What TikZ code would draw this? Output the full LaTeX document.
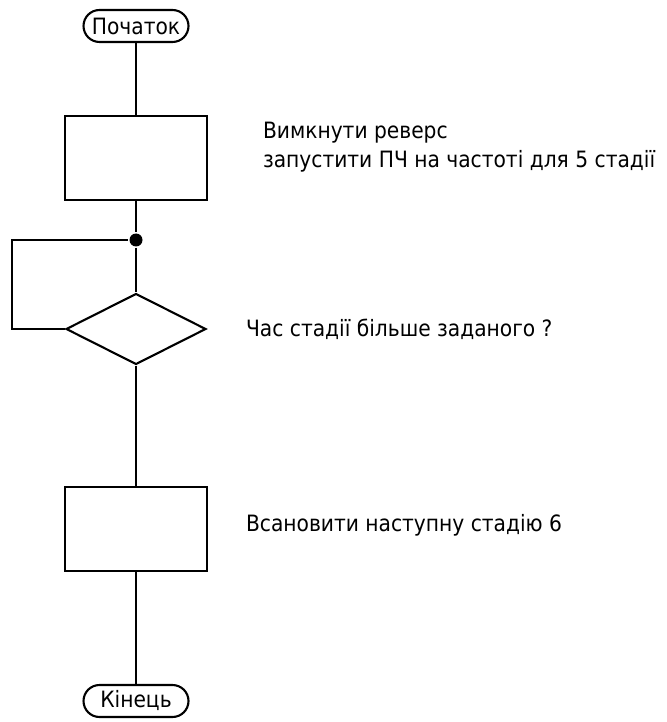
\documentclass[tikz,border=0pt]{standalone}
\usepackage{fontspec}
\setmainfont{DejaVu Sans Condensed}
\usetikzlibrary{shapes.geometric}

\begin{document}
\begin{tikzpicture}[x=0.02cm, y=-0.02cm, line width=1.2pt,
    font=\fontsize{12.8}{16.4}\selectfont,
    term/.style={rectangle, draw=black, rounded corners=0.32cm, minimum width=2.1cm, minimum height=0.64cm, inner sep=0pt},
    block/.style={rectangle, draw=black, minimum width=2.84cm, minimum height=1.68cm, inner sep=0pt},
    cond/.style={diamond, draw=black, minimum width=2.8cm, minimum height=1.42cm, inner sep=0pt},
    joint/.style={circle, fill=black, minimum size=0.26cm, inner sep=0pt},
    note/.style={anchor=west, align=left, inner sep=0pt}]
    \useasboundingbox (0,0) rectangle (666,722);
        \node[term] (start) at (136,26) {Початок};
        \node[block] (b1) at (136,158) {};
        \node[joint] (j1) at (136,240) {};
        \node[cond] (d1) at (136,329) {};
        \node[block] (b2) at (136,529) {};
        \node[term] (stop) at (136,701) {Кінець};
        \node[note] (t1) at (262,147) {Вимкнути реверс\\запустити ПЧ на частоті для 5 стадії};
        \node[note] (t2) at (245,329) {Час стадії більше заданого ?};
        \node[note] (t3) at (245,525) {Всановити наступну стадію 6};
        \draw[] (start) -- (b1) -- (j1) -- (d1) -- (b2) -- (stop)
        (d1.west) -- ++(-53,0) |- (j1);
    \end{tikzpicture}
\end{document}
